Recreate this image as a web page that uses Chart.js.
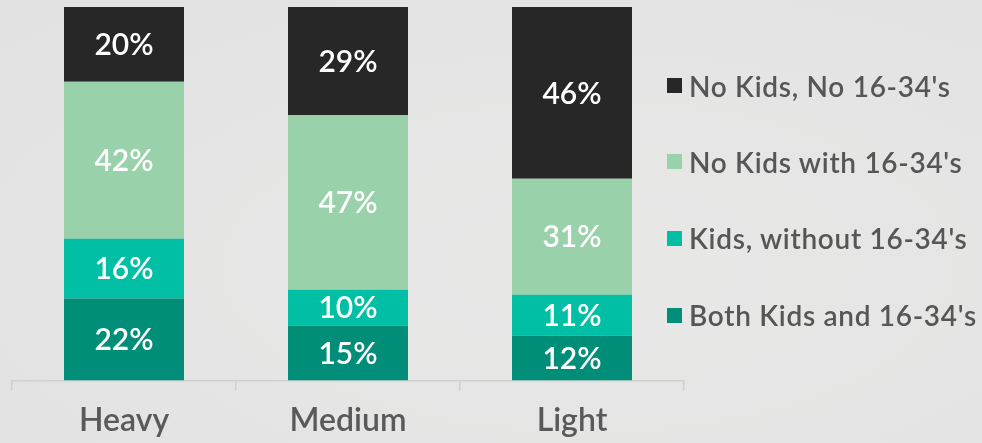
<!DOCTYPE html>
<html>
<head>
<meta charset="utf-8">
<script src="https://cdn.jsdelivr.net/npm/chart.js@4/dist/chart.umd.min.js"></script>
<style>
  html, body { margin: 0; padding: 0; }
  body { width: 982px; height: 443px; overflow: hidden; background: radial-gradient(ellipse at 60% 60%, #e8e8e7 0%, #e4e4e4 60%, #e2e2e2 100%); font-family: Lato, "Noto Sans", sans-serif; }
  #wrap { position: relative; width: 982px; height: 443px; }
  canvas { position: absolute; left: 0; top: 0; }
  #legend { position: absolute; left: 667px; top: 0; }
  .item { position: absolute; left: 0; white-space: nowrap; display: flex; align-items: center; height: 30px; }
  .box { width: 15px; height: 15px; margin-right: 7px; flex: none; }
  .txt { font-size: 28px; font-weight: 600; color: #565656; letter-spacing: 0.7px; }
</style>
</head>
<body>
<div id="wrap">
  <canvas id="c" width="982" height="443"></canvas>
  <div id="legend"></div>
</div>
<script>
const categories = ["Heavy", "Medium", "Light"];
const seriesNames = ["Both Kids and 16-34's", "Kids, without 16-34's", "No Kids with 16-34's", "No Kids, No 16-34's"];
const bothKids = [22, 14.7, 12];
const kidsWithout = [16, 9.6, 11];
const noKidsWith = [42, 46.7, 31];
const noKidsNo = [20, 29.0, 46];
const seriesColors = ["#008e78", "#00bfa5", "#99d1aa", "#272727"];
const seriesValues = [bothKids, kidsWithout, noKidsWith, noKidsNo];

const datasets = seriesNames.map((n, i) => ({
  label: n,
  data: seriesValues[i],
  backgroundColor: seriesColors[i],
  borderWidth: 0,
  barPercentage: 120 / 224,
  categoryPercentage: 1.0
}));

const labelPlugin = {
  id: 'segLabels',
  afterDatasetsDraw(chart) {
    const ctx = chart.ctx;
    ctx.save();
    ctx.fillStyle = '#ffffff';
    ctx.font = '600 30px Lato, "Noto Sans", sans-serif';
    ctx.textAlign = 'center';
    ctx.textBaseline = 'middle';
    chart.data.datasets.forEach((ds, di) => {
      const meta = chart.getDatasetMeta(di);
      meta.data.forEach((bar, i) => {
        const v = ds.data[i];
        const y = (bar.y + bar.base) / 2;
        ctx.fillText(Math.round(v) + '%', bar.x, y + 1);
      });
    });
    ctx.restore();
  }
};

new Chart(document.getElementById('c'), {
  type: 'bar',
  data: { labels: categories, datasets },
  options: {
    responsive: false,
    animation: false,
    layout: { padding: { left: 12, right: 298, top: 7, bottom: -8 } },
    plugins: { legend: { display: false }, tooltip: { enabled: false } },
    scales: {
      x: {
        stacked: true,
        grid: { display: true, offset: true, drawOnChartArea: false, drawTicks: true, tickLength: 10, color: '#cfcfcf', lineWidth: 1.5 },
        border: { display: true, color: '#cfcfcf', width: 1.5 },
        ticks: { color: '#595959', padding: 11, font: { family: 'Lato, "Noto Sans", sans-serif', size: 32, weight: '600', lineHeight: 1.2 } }
      },
      y: {
        stacked: true, display: false, min: 0, max: 100
      }
    }
  },
  plugins: [labelPlugin]
});

const legend = document.getElementById('legend');
const legendTops = [85.5, 161.5, 238, 315];
for (let k = 0; k < 4; k++) {
  const i = 3 - k;
  const item = document.createElement('div');
  item.className = 'item';
  item.style.top = (legendTops[k] - 15) + 'px';
  const b = document.createElement('div');
  b.className = 'box';
  b.style.background = seriesColors[i];
  const t = document.createElement('span');
  t.className = 'txt';
  t.textContent = seriesNames[i];
  item.appendChild(b); item.appendChild(t);
  legend.appendChild(item);
}
</script>
</body>
</html>
